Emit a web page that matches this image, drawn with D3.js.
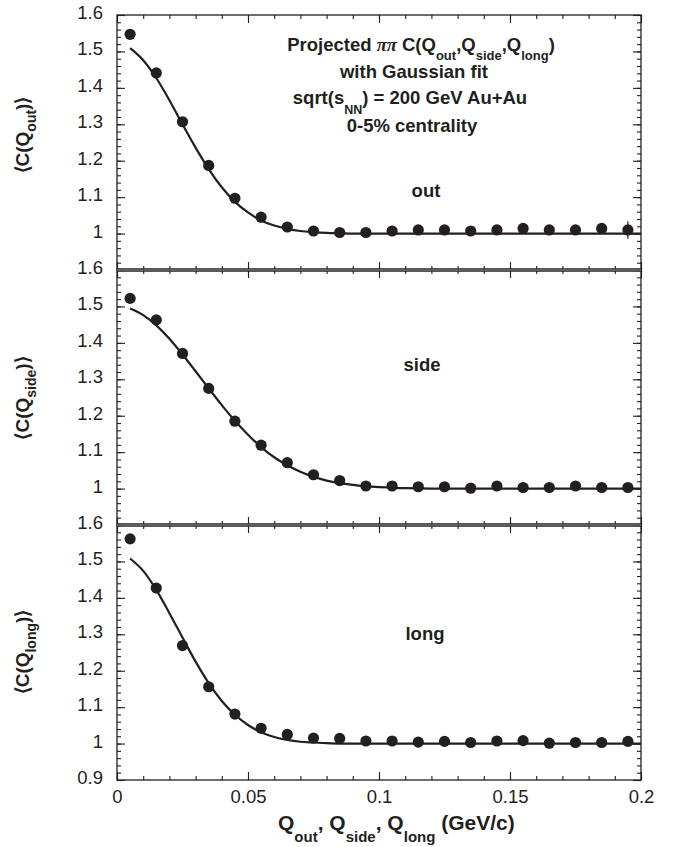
<!DOCTYPE html>
<html>
<head>
<meta charset="utf-8">
<script src="https://cdn.jsdelivr.net/npm/d3@7"></script>
<style>
  body { margin: 0; background: #fff; }
  svg { display: block; font-family: 'Liberation Sans', Arial, Helvetica, sans-serif; }
</style>
</head>
<body>
<svg id="chart" width="675" height="847"></svg>
<script>
// q values of the measured points (GeV/c)
const qPoints = [0.005, 0.015, 0.025, 0.035, 0.045, 0.055, 0.065, 0.075, 0.085, 0.095,
  0.105, 0.115, 0.125, 0.135, 0.145, 0.155, 0.165, 0.175, 0.185, 0.195];

const outValues = [1.547, 1.441, 1.307, 1.187, 1.097, 1.045, 1.018, 1.007, 1.003, 1.003,
  1.007, 1.010, 1.010, 1.007, 1.010, 1.014, 1.010, 1.010, 1.014, 1.010];
const outErrors = [0.01, 0.01, 0.01, 0.01, 0.01, 0.01, 0.01, 0.01, 0.01, 0.01,
  0.01, 0.01, 0.01, 0.01, 0.01, 0.01, 0.01, 0.01, 0.01, 0.024];
const sideValues = [1.522, 1.463, 1.371, 1.275, 1.185, 1.119, 1.071, 1.038, 1.022, 1.007,
  1.007, 1.005, 1.005, 1.001, 1.007, 1.003, 1.003, 1.007, 1.003, 1.003];
const longValues = [1.562, 1.427, 1.269, 1.156, 1.081, 1.042, 1.025, 1.015, 1.014, 1.007,
  1.007, 1.004, 1.006, 1.003, 1.007, 1.008, 1.001, 1.003, 1.003, 1.006];

// Gaussian fit curves
const qFit = [0.005, 0.01, 0.015, 0.02, 0.025, 0.03, 0.035, 0.04, 0.045, 0.05, 0.055, 0.06,
  0.065, 0.07, 0.075, 0.08, 0.085, 0.09, 0.095, 0.1, 0.11, 0.12, 0.15, 0.2];
const outFit = [1.509, 1.476, 1.427, 1.366, 1.300, 1.236, 1.177, 1.127, 1.087, 1.058, 1.036, 1.022,
  1.013, 1.007, 1.004, 1.002, 1.001, 1.0, 1.0, 1.0, 1.0, 1.0, 1.0, 1.0];
const sideFit = [1.494, 1.476, 1.448, 1.411, 1.368, 1.322, 1.275, 1.229, 1.186, 1.148, 1.114, 1.086,
  1.064, 1.046, 1.032, 1.022, 1.015, 1.010, 1.006, 1.004, 1.001, 1.0, 1.0, 1.0];
const longFit = [1.508, 1.474, 1.422, 1.358, 1.291, 1.225, 1.166, 1.117, 1.079, 1.051, 1.031, 1.018,
  1.010, 1.005, 1.003, 1.001, 1.0, 1.0, 1.0, 1.0, 1.0, 1.0, 1.0, 1.0];

const xTicks = [0, 0.05, 0.1, 0.15, 0.2];
const yTicks = [0.9, 1.0, 1.1, 1.2, 1.3, 1.4, 1.5, 1.6];
const panelNames = ['out', 'side', 'long'];

const ink = '#231f20';
const svg = d3.select('#chart');
const left = 117, right = 641, top0 = 15, panelH = 255;

const x = d3.scaleLinear().domain([0, 0.2]).range([0, right - left]);
const fmt = d3.format('~g');
const xMinor = d3.range(0, 21).map((k) => k / 100);
const yMinor = d3.range(45, 81).map((k) => k / 50);

const panels = [
  { name: panelNames[0], vals: outValues, errs: outErrors, fit: outFit, labelX: 426, labelY: 197, titleY: 135 },
  { name: panelNames[1], vals: sideValues, errs: null, fit: sideFit, labelX: 422, labelY: 371, titleY: 398 },
  { name: panelNames[2], vals: longValues, errs: null, fit: longFit, labelX: 425, labelY: 640, titleY: 652 }
];

panels.forEach((p, i) => {
  const last = i === panels.length - 1;
  const g = svg.append('g').attr('transform', `translate(${left},${top0 + i * panelH})`);
  const y = d3.scaleLinear().domain([0.9, 1.6]).range([panelH, 0]);
  const w = right - left;

  g.append('rect').attr('width', w).attr('height', panelH)
    .attr('fill', 'none').attr('stroke', ink).attr('stroke-width', 1.3);

  const styleAxis = (sel) => {
    sel.select('.domain').remove();
    sel.selectAll('line').attr('stroke', ink).attr('stroke-width', 1.1);
    sel.selectAll('text').attr('fill', ink).style('font-size', '18.5px')
      .style('font-family', "'Liberation Sans', Arial, sans-serif");
  };

  // y axes, ticks pointing inside
  g.append('g').call(d3.axisLeft(y).tickValues(yMinor).tickSize(-4).tickFormat('')).call(styleAxis);
  g.append('g').call(d3.axisLeft(y).tickValues(yTicks).tickSize(-8).tickPadding(14)
    .tickFormat((d) => (d < 1 && !last ? '' : fmt(d)))).call(styleAxis)
    .selectAll('text').attr('dy', '0.19em');
  g.append('g').attr('transform', `translate(${w},0)`)
    .call(d3.axisRight(y).tickValues(yMinor).tickSize(-4).tickFormat('')).call(styleAxis);
  g.append('g').attr('transform', `translate(${w},0)`)
    .call(d3.axisRight(y).tickValues(yTicks).tickSize(-8).tickFormat('')).call(styleAxis);

  // x axes top and bottom
  g.append('g').call(d3.axisTop(x).tickValues(xMinor).tickSize(-4).tickFormat('')).call(styleAxis);
  g.append('g').call(d3.axisTop(x).tickValues(xTicks).tickSize(-8).tickFormat('')).call(styleAxis);
  g.append('g').attr('transform', `translate(0,${panelH})`)
    .call(d3.axisBottom(x).tickValues(xMinor).tickSize(-4).tickFormat('')).call(styleAxis);
  g.append('g').attr('transform', `translate(0,${panelH})`)
    .call(d3.axisBottom(x).tickValues(xTicks).tickSize(-8).tickPadding(14)
      .tickFormat((d) => (last ? fmt(d) : ''))).call(styleAxis)
    .selectAll('text').attr('dy', '0.5em');

  // fit curve
  const line = d3.line().x((d, k) => x(qFit[k])).y((d) => y(d)).curve(d3.curveMonotoneX);
  g.append('path').datum(p.fit).attr('d', line)
    .attr('fill', 'none').attr('stroke', ink).attr('stroke-width', 2.2);

  // error bars
  if (p.errs) {
    g.selectAll('.err').data(p.vals).join('line').attr('class', 'err')
      .attr('x1', (d, k) => x(qPoints[k])).attr('x2', (d, k) => x(qPoints[k]))
      .attr('y1', (d, k) => y(d - p.errs[k])).attr('y2', (d, k) => y(d + p.errs[k]))
      .attr('stroke', ink).attr('stroke-width', 1.2);
  }

  g.selectAll('.pt').data(p.vals).join('circle').attr('class', 'pt')
    .attr('cx', (d, k) => x(qPoints[k])).attr('cy', (d) => y(d))
    .attr('r', 5.6).attr('fill', ink);

  // panel label
  svg.append('text').attr('x', p.labelX).attr('y', p.labelY)
    .attr('text-anchor', 'middle').attr('font-weight', 'bold').attr('font-size', 18.5)
    .attr('fill', ink).text(p.name);

  // rotated y title
  const t = svg.append('text')
    .attr('transform', `translate(29,${p.titleY}) rotate(-90)`)
    .attr('text-anchor', 'middle').attr('font-weight', 'bold').attr('font-size', 19)
    .attr('fill', ink);
  t.append('tspan').text('\u27E8C(Q');
  t.append('tspan').attr('dy', 7).attr('font-size', 14).text(p.name);
  t.append('tspan').attr('dy', -7).text(')\u27E9');
});

// dividers between panels
[1, 2].forEach((k) => {
  const yy = top0 + k * panelH;
  svg.append('line').attr('x1', left).attr('x2', right).attr('y1', yy).attr('y2', yy)
    .attr('stroke', ink).attr('stroke-width', 3.6);
  svg.append('line').attr('x1', left).attr('x2', right).attr('y1', yy).attr('y2', yy)
    .attr('stroke', '#9a9a9a').attr('stroke-width', 1.2);
});

// title block
const title = svg.append('g').attr('font-weight', 'bold').attr('font-size', 18.5)
  .attr('fill', ink).attr('text-anchor', 'middle');
const l1 = title.append('text').attr('x', 421).attr('y', 51);
l1.append('tspan').text('Projected ');
l1.append('tspan').attr('font-family', "'Liberation Serif', serif").attr('font-style', 'italic').text('\u03C0\u03C0');
l1.append('tspan').text(' C(Q');
l1.append('tspan').attr('dy', 8.5).attr('font-size', 13).text('out');
l1.append('tspan').attr('dy', -8.5).text(',Q');
l1.append('tspan').attr('dy', 8.5).attr('font-size', 13).text('side');
l1.append('tspan').attr('dy', -8.5).text(',Q');
l1.append('tspan').attr('dy', 8.5).attr('font-size', 13).text('long');
l1.append('tspan').attr('dy', -8.5).text(')');
title.append('text').attr('x', 414).attr('y', 78).text('with Gaussian fit');
const l3 = title.append('text').attr('x', 410).attr('y', 104);
l3.append('tspan').text('sqrt(s');
l3.append('tspan').attr('dy', 9.5).attr('font-size', 12.5).text('NN');
l3.append('tspan').attr('dy', -9.5).text(') = 200 GeV Au+Au');
title.append('text').attr('x', 412).attr('y', 132).text('0-5% centrality');

// x title
const xt = svg.append('text').attr('x', 278).attr('y', 830)
  .attr('font-weight', 'bold').attr('font-size', 21).attr('fill', ink);
xt.append('tspan').text('Q');
xt.append('tspan').attr('dy', 12).attr('font-size', 15).text('out');
xt.append('tspan').attr('dy', -12).text(', Q');
xt.append('tspan').attr('dy', 12).attr('font-size', 15).text('side');
xt.append('tspan').attr('dy', -12).text(', Q');
xt.append('tspan').attr('dy', 12).attr('font-size', 15).text('long');
xt.append('tspan').attr('dy', -12).text(' (GeV/c)');
</script>
</body>
</html>
